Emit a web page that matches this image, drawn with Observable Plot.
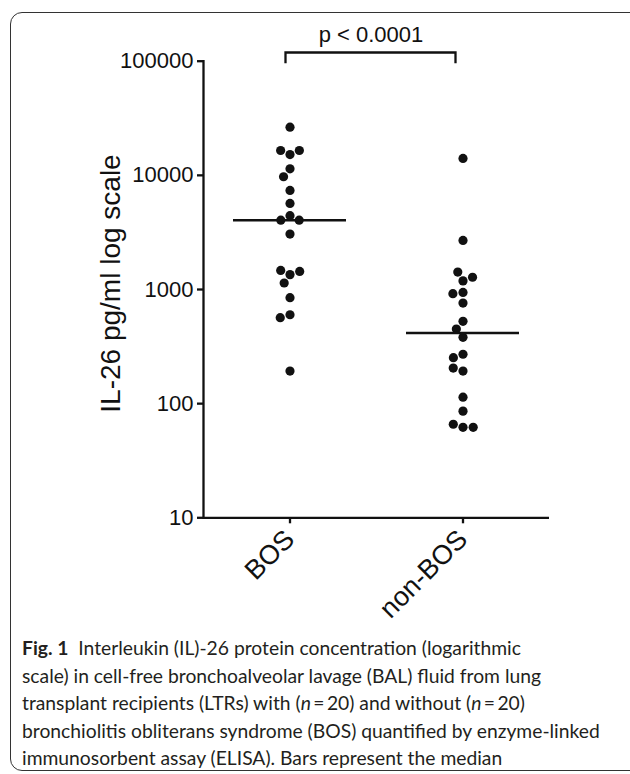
<!DOCTYPE html>
<html><head><meta charset="utf-8">
<script src="https://cdn.jsdelivr.net/npm/d3@7"></script>
<script src="https://cdn.jsdelivr.net/npm/@observablehq/plot@0.6"></script>
<style>
body{margin:0;background:#fff;}
#wrap{position:relative;width:630px;height:774px;overflow:hidden;background:#fff;}
#box{position:absolute;left:10px;top:12px;width:660px;height:759px;border:1.5px solid #333;border-radius:12px;box-sizing:border-box;}
#chart{position:absolute;left:0;top:0;}
#caption{position:absolute;left:22px;top:634px;font-family:Lato,"Open Sans",sans-serif;font-size:19.3px;line-height:27.6px;color:#231f20;white-space:nowrap;}
#caption b{font-weight:700;}
</style></head><body>
<div id="wrap"><div id="box"></div><div id="chart"></div><div id="caption"></div></div>
<script>
// ---- data ----
const groups = ["BOS", "non-BOS"];
const bosValues = [26400, 15200, 16500, 16500, 11400, 9720, 7380, 5680, 4430, 4050, 4050, 3060, 1350, 1470, 1440, 1140, 848, 601, 566, 193];
const nonBosValues = [14060, 2690, 1190, 1420, 1280, 760, 943, 919, 526, 450, 381, 271, 253, 193, 205, 114, 86, 62, 66, 62];
const yTicks = [10, 100, 1000, 10000, 100000];
const yDomain = [10, 100000];
const yLabel = "IL-26 pg/ml log scale";
const pLabel = "p < 0.0001";
const bracketValues = [118000, 95000]; // bracket bar level and leg end (data units)
const captionLines = [
  "<b>Fig. 1</b>&nbsp; Interleukin (IL)-26 protein concentration (logarithmic",
  "scale) in cell-free bronchoalveolar lavage (BAL) fluid from lung",
  "transplant recipients (LTRs) with (<i>n</i>\u2009=\u200920) and without (<i>n</i>\u2009=\u200920)",
  "bronchiolitis obliterans syndrome (BOS) quantified by enzyme-linked",
  "immunosorbent assay (ELISA). Bars represent the median"
];

const data = [
  ...bosValues.map(v => ({group: groups[0], value: v})),
  ...nonBosValues.map(v => ({group: groups[1], value: v}))
];
const medians = groups.map(g => ({group: g, value: d3.median(data.filter(d => d.group === g), d => d.value)}));

const ink = "#111";
const W = 630, H = 634;
const chart = Plot.plot({
  width: W, height: H,
  marginLeft: 202, marginRight: 81, marginTop: 60.7, marginBottom: H - 517.3,
  style: {fontFamily: "'Liberation Sans', Arial, sans-serif", color: ink, background: "transparent", overflow: "visible"},
  fx: {domain: groups, padding: 0, label: null, axis: null},
  y: {type: "log", domain: yDomain, axis: null},
  marks: [
    Plot.ruleY([yDomain[0]], {stroke: ink, strokeWidth: 2.3}),
    Plot.frame({anchor: "left", facetAnchor: "left", stroke: ink, strokeWidth: 2.3}),
    Plot.axisY(yTicks, {anchor: "left", tickSize: 6, tickPadding: 4, tickFormat: d3.format("d"), fontSize: 22, strokeWidth: 2.3, label: null}),
    Plot.axisFx({anchor: "bottom", tickRotate: -45, tickSize: 6, tickPadding: 11, fontSize: 27, strokeWidth: 2.3, label: null}),
    Plot.dot(data, Plot.dodgeX("middle", {fx: "group", y: "value", r: 4.6, padding: 5, fill: ink})),
    Plot.ruleY(medians, {fx: "group", y: "value", stroke: ink, strokeWidth: 2.5, insetLeft: 30, insetRight: 30}),
    Plot.text([yLabel], {facetAnchor: "left", frameAnchor: "left", textAnchor: "middle", rotate: -90, dx: -92, dy: -6, fontSize: 28, fill: ink})
  ]
});
document.getElementById("chart").appendChild(chart);

// bracket and p-value via the plot's own scales
const fxs = chart.scale("fx"), ys = chart.scale("y");
const cx = g => fxs.apply(g) + fxs.bandwidth / 2;
const svg = d3.select(chart);
const x1 = cx(groups[0]), x2 = cx(groups[1]);
const yTop = ys.apply(bracketValues[0]), yLeg = ys.apply(bracketValues[1]);
svg.append("path")
  .attr("d", `M${x1 - 4},${yLeg}V${yTop}H${x2 - 7}V${yLeg}`)
  .attr("fill", "none").attr("stroke", ink).attr("stroke-width", 2.3);
svg.append("text")
  .attr("x", (x1 + x2) / 2 - 5).attr("y", yTop - 10)
  .attr("text-anchor", "middle").attr("font-size", 22).attr("fill", ink)
  .attr("font-family", "'Liberation Sans', Arial, sans-serif")
  .text(pLabel);

document.getElementById("caption").innerHTML = captionLines.join("<br>");
</script>
</body></html>
